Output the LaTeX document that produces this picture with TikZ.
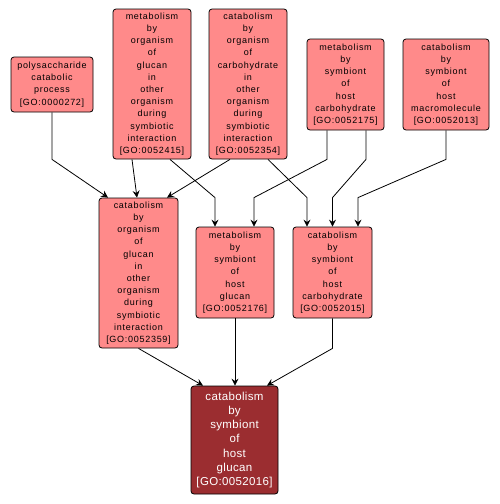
\documentclass[tikz,border=0pt]{standalone}
\usepackage{fontspec}
\setmainfont{Liberation Sans}
\newfontfamily\gofont[LetterSpace=8]{Liberation Sans}
\newfontfamily\gofontb[LetterSpace=3]{Liberation Sans}
\usepackage{tikz}
\usetikzlibrary{arrows.meta,positioning}

\definecolor{goLight}{HTML}{FF8A8A}
\definecolor{goDark}{HTML}{9B2D30}

\begin{document}
\begin{tikzpicture}[x=1pt,y=-1pt,>={Stealth[length=7pt,width=7pt,inset=2.5pt]},
    term/.style={draw=black,line width=0.8pt,rounded corners=3pt,fill=goLight,
        align=center,inner sep=0pt,font=\gofont\fontsize{9}{12.2}\selectfont},
    focus/.style={term,fill=goDark,text=white,font=\gofontb\fontsize{11.5}{14.3}\selectfont},
    link/.style={->,line width=0.8pt}]
    \useasboundingbox[fill=white] (0,0) rectangle (499,504);

    \node[term,minimum width=82pt,minimum height=55pt] (P272) at (52,84.5)
        {polysaccharide\\catabolic\\process\\{[GO:0000272]}};
    \node[term,minimum width=78pt,minimum height=150pt] (G415) at (152,84)
        {metabolism\\by\\organism\\of\\glucan\\in\\other\\organism\\during\\symbiotic\\interaction\\{[GO:0052415]}};
    \node[term,minimum width=78pt,minimum height=150pt] (C354) at (248,84)
        {catabolism\\by\\organism\\of\\carbohydrate\\in\\other\\organism\\during\\symbiotic\\interaction\\{[GO:0052354]}};
    \node[term,minimum width=77pt,minimum height=91pt] (M175) at (345.5,84.5)
        {metabolism\\by\\symbiont\\of\\host\\carbohydrate\\{[GO:0052175]}};
    \node[term,minimum width=86pt,minimum height=91pt] (C013) at (446,84.5)
        {catabolism\\by\\symbiont\\of\\host\\macromolecule\\{[GO:0052013]}};

    \node[term,minimum width=79pt,minimum height=150pt] (C359) at (138.5,273)
        {catabolism\\by\\organism\\of\\glucan\\in\\other\\organism\\during\\symbiotic\\interaction\\{[GO:0052359]}};
    \node[term,minimum width=78pt,minimum height=91pt] (M176) at (235,272.5)
        {metabolism\\by\\symbiont\\of\\host\\glucan\\{[GO:0052176]}};
    \node[term,minimum width=79pt,minimum height=91pt] (C015) at (332.5,272.5)
        {catabolism\\by\\symbiont\\of\\host\\carbohydrate\\{[GO:0052015]}};

    \node[focus,minimum width=87pt,minimum height=108pt] (C016) at (234.5,440)
        {catabolism\\by\\symbiont\\of\\host\\glucan\\{[GO:0052016]}};

    % upper edges
    \draw[link] (P272.south) -- ++(0,47) -- ([xshift=-30.5pt]C359.north);
    \draw[link] ([xshift=-20pt]G415.south) -- ([xshift=-1.5pt]C359.north);
    \draw[link] ([xshift=-18pt]C354.south) -- ([xshift=28.5pt]C359.north);
    \draw[link] ([xshift=18pt]G415.south) -- ([xshift=-20pt,yshift=29pt]M176.north) -- ([xshift=-20pt]M176.north);
    \draw[link] ([xshift=-18.5pt]M175.south) -- ++(0,29) -- ([xshift=19pt,yshift=29pt]M176.north) -- ([xshift=19pt]M176.north);
    \draw[link] ([xshift=20pt]C354.south) -- ([xshift=-25.5pt,yshift=29pt]C015.north) -- ([xshift=-25.5pt]C015.north);
    \draw[link] ([xshift=20.5pt]M175.south) -- ++(0,29) -- ([yshift=29pt]C015.north) -- (C015.north);
    \draw[link] (C013.south) -- ++(0,29) -- ([xshift=25.5pt,yshift=29pt]C015.north) -- ([xshift=25.5pt]C015.north);

    % lower edges
    \draw[link] (C359.south) -- ([xshift=-31.5pt]C016.north);
    \draw[link] (M176.south) -- (M176.south |- C016.north);
    \draw[link] (C015.south) -- ++(0,30) -- ([xshift=32.5pt]C016.north);
\end{tikzpicture}
\end{document}
